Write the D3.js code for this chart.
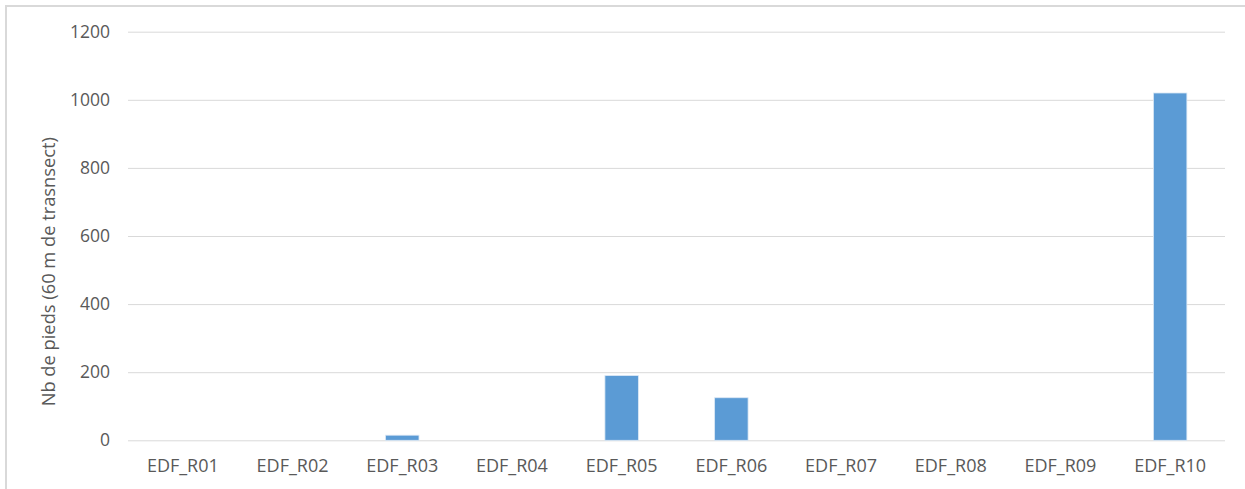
<!DOCTYPE html>
<html>
<head>
<meta charset="utf-8">
<script src="https://cdn.jsdelivr.net/npm/d3@7"></script>
<style>
  html, body { margin: 0; padding: 0; background: #fff; }
  svg { display: block; }
  text { font-family: "Open Sans", "Noto Sans", sans-serif; fill: #595959; }
</style>
</head>
<body>
<svg id="chart" width="1245" height="489"></svg>
<script>
const categories = ["EDF_R01","EDF_R02","EDF_R03","EDF_R04","EDF_R05","EDF_R06","EDF_R07","EDF_R08","EDF_R09","EDF_R10"];
const values = [0, 0, 15, 0, 190, 125, 0, 0, 0, 1020];
const yTicks = [0, 200, 400, 600, 800, 1000, 1200];
const yTitle = "Nb de pieds (60 m de trasnsect)";

const svg = d3.select("#chart");
const W = 1245, H = 489;
const plot = { left: 128, right: 1225, top: 31.7, bottom: 440.3 };

// outer frame (top and left visible)
svg.append("rect")
  .attr("x", 6).attr("y", 6)
  .attr("width", W + 10).attr("height", H + 10)
  .attr("fill", "none").attr("stroke", "#d9d9d9").attr("stroke-width", 2);

const x = d3.scaleBand().domain(categories)
  .range([plot.left, plot.right])
  .paddingInner(0.695).paddingOuter(0.3475);
const y = d3.scaleLinear().domain([0, 1200]).range([plot.bottom, plot.top]);

// gridlines + y labels
const yAxis = d3.axisLeft(y).tickValues(yTicks)
  .tickSize(-(plot.right - plot.left)).tickPadding(18).tickFormat(d3.format("d"));
const gy = svg.append("g").attr("transform", `translate(${plot.left},0)`).call(yAxis);
gy.select(".domain").remove();
gy.selectAll(".tick line").attr("stroke", "#d9d9d9").attr("stroke-width", 1);
gy.selectAll(".tick text").attr("font-size", 17.5).attr("fill", "#595959")
  .style("font-family", '"Open Sans", sans-serif');

// bars
svg.append("g").selectAll("rect").data(values).join("rect")
  .attr("x", (d, i) => x(categories[i]))
  .attr("width", x.bandwidth())
  .attr("y", d => y(d))
  .attr("height", d => y(0) - y(d))
  .attr("fill", "#5b9bd5")
  .attr("stroke", d => d > 0 ? "#dbe8f5" : "none")
  .attr("stroke-width", 0.8);

// x axis labels
const xAxis = d3.axisBottom(x).tickSize(0).tickPadding(19);
const gx = svg.append("g").attr("transform", `translate(0,${plot.bottom})`).call(xAxis);
gx.select(".domain").remove();
gx.selectAll(".tick text").attr("font-size", 18).attr("fill", "#595959")
  .style("font-family", '"Open Sans", sans-serif');

// y title
svg.append("text")
  .attr("transform", `translate(55,${(126.7 + 416.7) / 2}) rotate(-90)`)
  .attr("text-anchor", "middle")
  .attr("font-size", 18.3)
  .text(yTitle);
</script>
</body>
</html>
